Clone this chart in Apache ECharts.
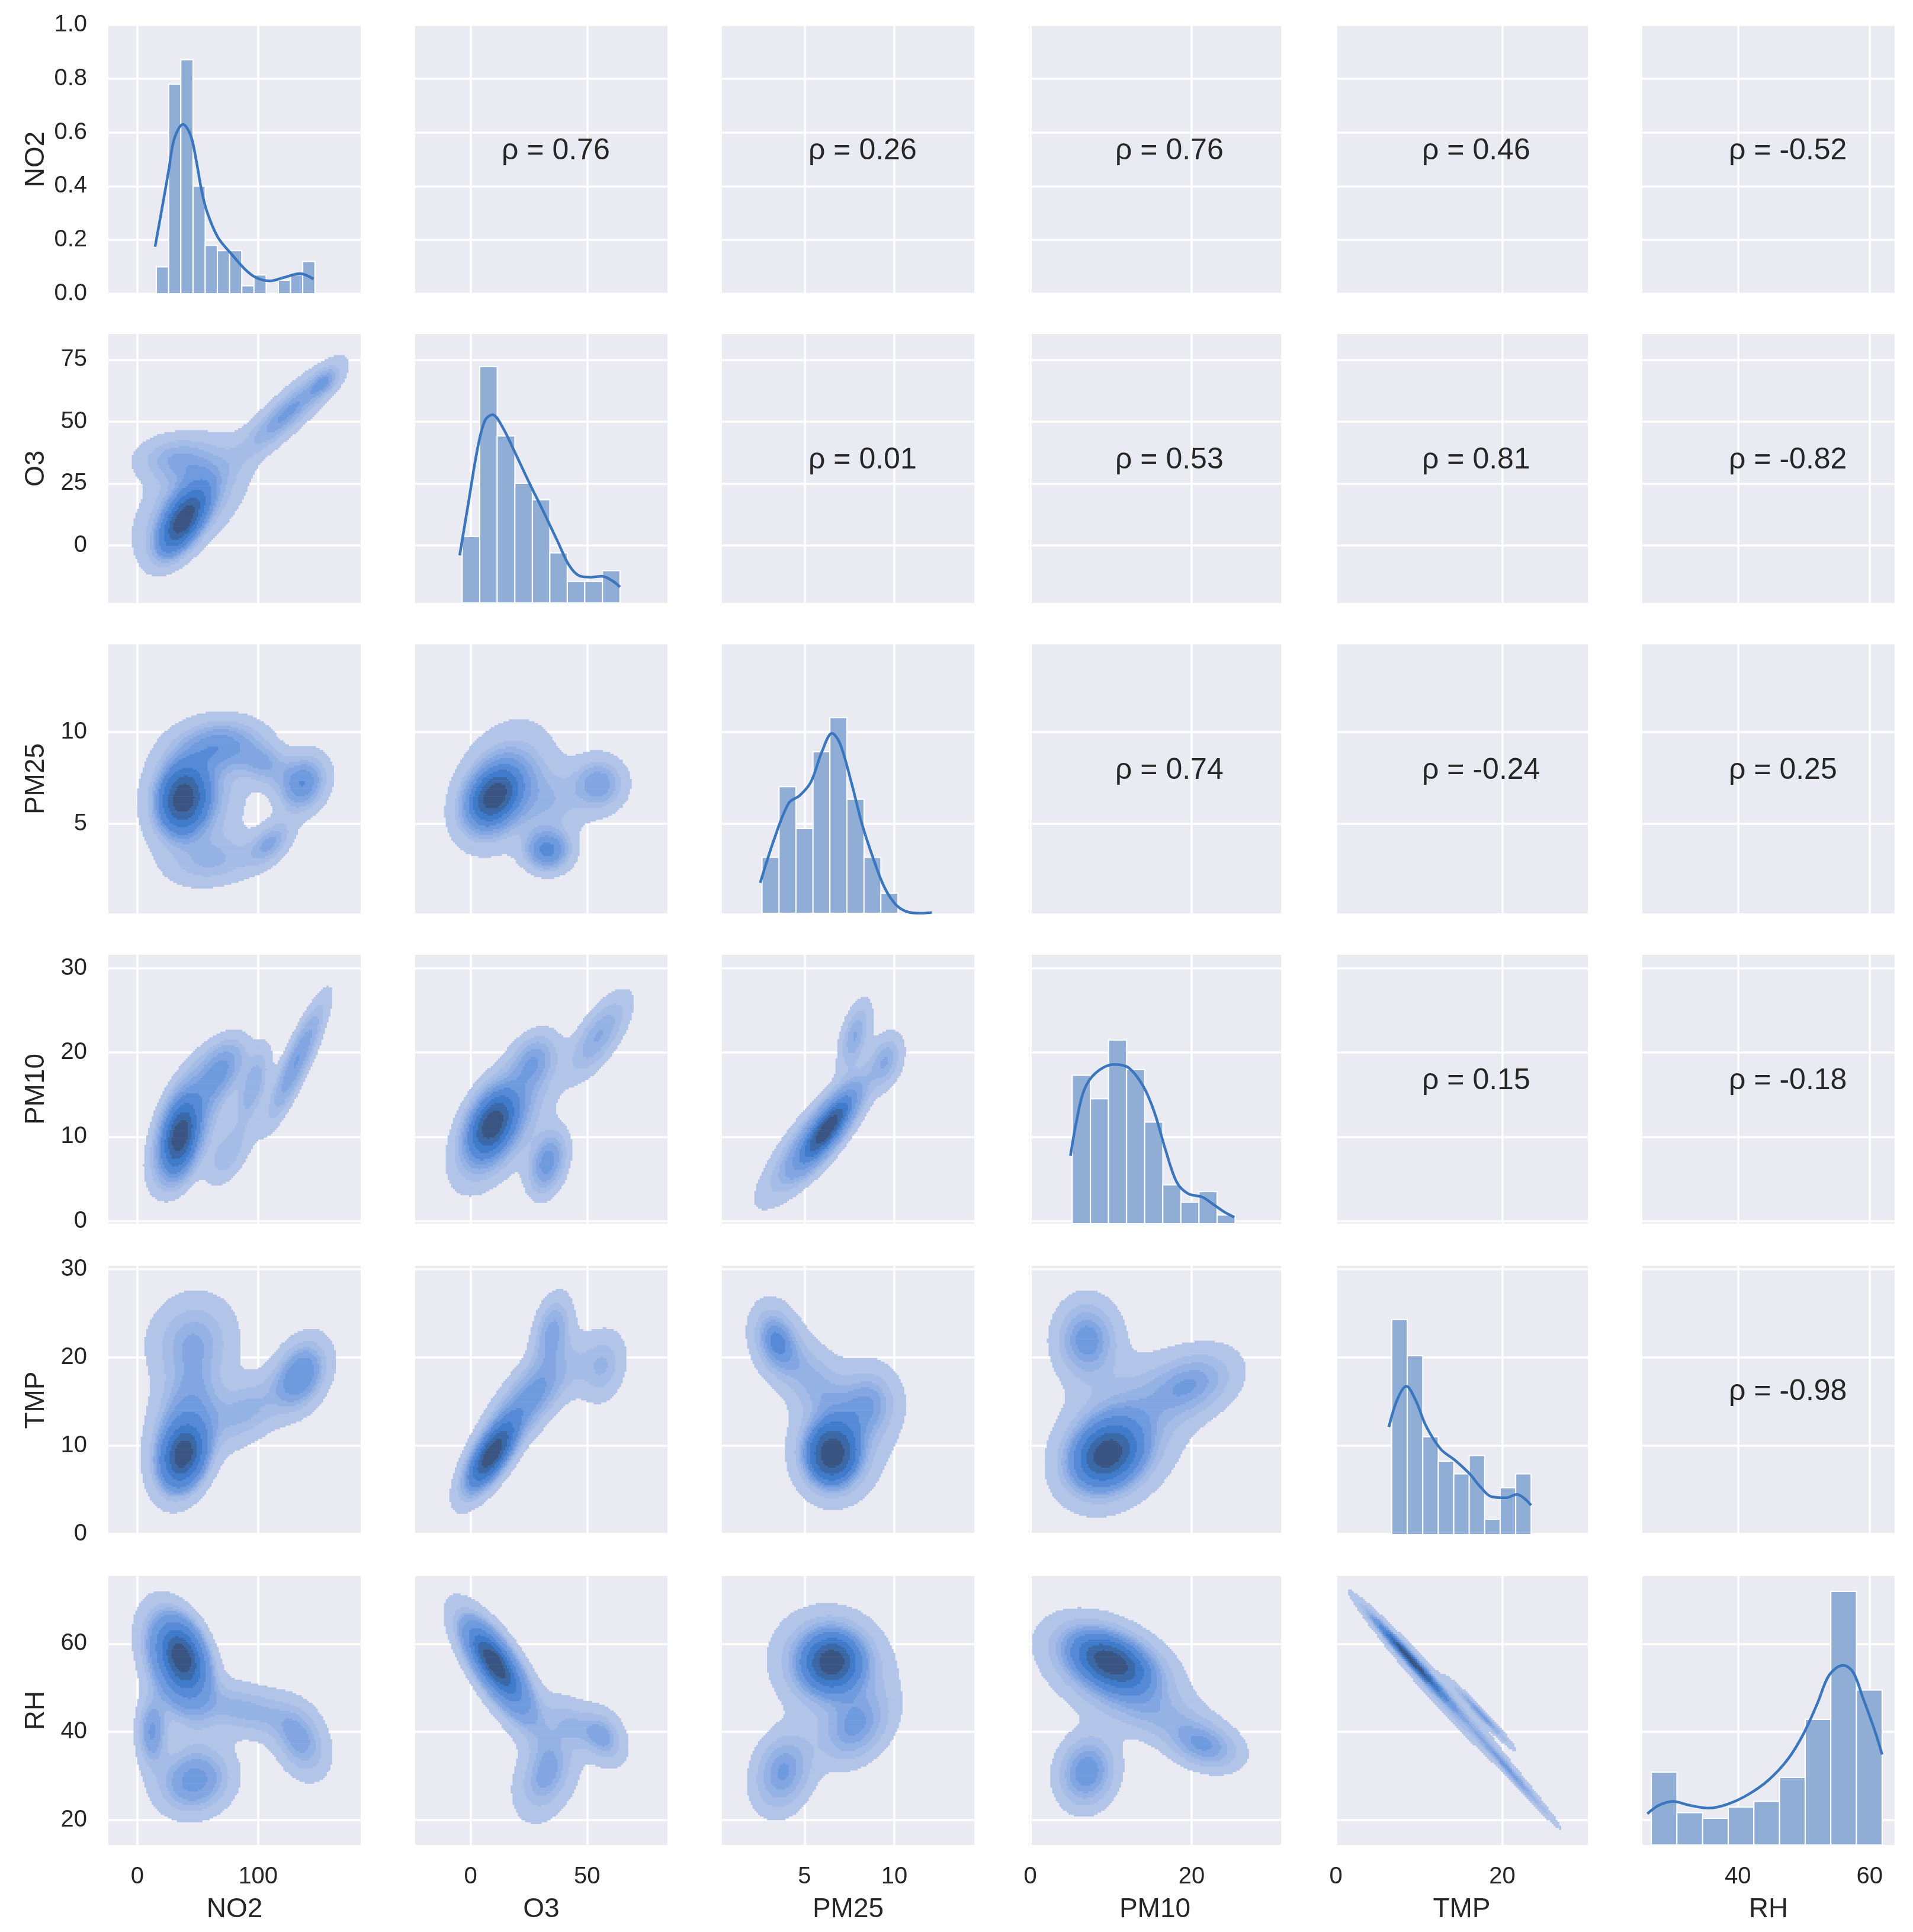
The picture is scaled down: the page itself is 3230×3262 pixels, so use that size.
<!DOCTYPE html>
<html>
<head>
<meta charset="utf-8">
<script src="https://cdn.jsdelivr.net/npm/echarts@6/dist/echarts.min.js"></script>
<style>
  html, body { margin: 0; padding: 0; background: #fff; }
  #chart { width: 3230px; height: 3262px; }
</style>
</head>
<body>
<div id="chart"></div>
<script>
// variables, in grid order
const variables = ['NO2', 'O3', 'PM25', 'PM10', 'TMP', 'RH'];

// axis ranges and ticks (columns = x, rows = y)
const colRange = [[-24, 185], [-23.8, 84.5], [0.4, 14.45], [-0.2, 31.1], [-0.05, 30.3], [25.5, 63.8]];
const rowRange = [[0, 1], [-23.3, 85.4], [0.15, 14.75], [-0.3, 31.6], [-0.1, 30.4], [14.3, 75.4]];
const colTicks = [[0, 100], [0, 50], [5, 10], [0, 20], [0, 20], [40, 60]];
const rowTicks = [[0, 0.2, 0.4, 0.6, 0.8, 1.0], [0, 25, 50, 75], [5, 10], [0, 10, 20, 30], [0, 10, 20, 30], [20, 40, 60]];

// spearman rho shown in the upper triangle
const rhoValues = [
  [null, 0.76, 0.26, 0.76, 0.46, -0.52],
  [null, null, 0.01, 0.53, 0.81, -0.82],
  [null, null, null, 0.74, -0.24, 0.25],
  [null, null, null, null, 0.15, -0.18],
  [null, null, null, null, null, -0.98]
];

// histogram bin edges (data units) and bar heights (share of panel height)
const histEdges = [
  [15.8, 25.9, 36.0, 46.1, 56.2, 66.3, 76.4, 86.5, 96.6, 106.7, 116.8, 126.9, 137.0, 147.1],
  [-3.6, 3.9, 11.4, 19.0, 26.5, 34.0, 41.5, 49.0, 56.6, 64.1],
  [2.63, 3.58, 4.52, 5.47, 6.41, 7.36, 8.31, 9.25, 10.2],
  [5.2, 7.45, 9.69, 11.94, 14.18, 16.43, 18.67, 20.92, 23.16, 25.4],
  [6.72, 8.58, 10.44, 12.31, 14.17, 16.03, 17.89, 19.75, 21.62, 23.48],
  [26.86, 30.75, 34.65, 38.54, 42.43, 46.33, 50.22, 54.11, 58.0, 61.9]
];
const histHeights = [
  [0.10, 0.78, 0.87, 0.40, 0.18, 0.16, 0.16, 0.03, 0.07, 0, 0.05, 0.07, 0.12],
  [0.247, 0.879, 0.621, 0.445, 0.384, 0.186, 0.08, 0.08, 0.12],
  [0.208, 0.471, 0.315, 0.601, 0.728, 0.424, 0.208, 0.075],
  [0.552, 0.464, 0.683, 0.573, 0.378, 0.144, 0.08, 0.119, 0.032],
  [0.80, 0.665, 0.364, 0.273, 0.226, 0.294, 0.057, 0.174, 0.226],
  [0.271, 0.12, 0.099, 0.141, 0.162, 0.251, 0.467, 0.943, 0.576]
];

// 1d kde curves on the diagonal, [x, share of panel height]
const kdeNO2 = [[14.7, 0.175], [21.5, 0.345], [26, 0.46], [30.5, 0.575], [37.8, 0.63], [44.1, 0.59], [48.6, 0.5], [53.2, 0.385], [57.7, 0.305], [66.7, 0.21], [78.1, 0.147], [89.4, 0.09], [98.4, 0.06], [109.7, 0.048], [121, 0.06], [134.6, 0.075], [145.9, 0.055]];
const kdeO3 = [[-4.7, 0.177], [-0.8, 0.38], [3.1, 0.58], [6.25, 0.68], [9.4, 0.70], [13.3, 0.66], [18.75, 0.565], [25, 0.45], [31.25, 0.34], [37.5, 0.226], [42.2, 0.141], [46.9, 0.10], [51.6, 0.096], [56.25, 0.099], [60.9, 0.082], [64.1, 0.059]];
const kdePM25 = [[2.53, 0.113], [3.31, 0.276], [4.12, 0.41], [4.73, 0.438], [5.35, 0.488], [5.96, 0.60], [6.53, 0.669], [6.98, 0.63], [7.6, 0.488], [8.2, 0.332], [8.82, 0.205], [9.43, 0.099], [10.04, 0.035], [10.65, 0.007], [11.47, 0.0], [12.08, 0.003]];
const kdePM10 = [[4.97, 0.252], [5.75, 0.385], [6.67, 0.497], [8.05, 0.559], [10.34, 0.592], [12.18, 0.58], [14.02, 0.51], [15.4, 0.413], [16.78, 0.273], [18.16, 0.154], [19.54, 0.112], [21.38, 0.098], [22.76, 0.07], [24.14, 0.042], [25.3, 0.024]];
const kdeTMP = [[6.37, 0.40], [7.37, 0.502], [8.46, 0.552], [9.55, 0.502], [10.85, 0.403], [12.6, 0.318], [14.34, 0.276], [16.08, 0.226], [17.39, 0.177], [18.7, 0.141], [20.44, 0.137], [21.74, 0.149], [23.48, 0.109]];
const kdeRH = [[26.26, 0.116], [28.06, 0.148], [30.17, 0.162], [32.57, 0.148], [35.58, 0.137], [38.59, 0.153], [41.6, 0.188], [44.6, 0.24], [47.6, 0.319], [50.0, 0.415], [52.1, 0.528], [53.9, 0.633], [56.0, 0.668], [57.5, 0.642], [59.0, 0.546], [60.8, 0.424], [61.9, 0.336]];
const kdeCurves = [kdeNO2, kdeO3, kdePM25, kdePM10, kdeTMP, kdeRH];

// bivariate kde bumps:
// [mean x, mean y, sd x, sd y, correlation, weight]
const blobs = {
  '1_0': [[38, 10, 12, 8, 0.6, 0.35], [45, 18, 25, 13, 0.55, 0.30], [32, 35, 20, 6, 0.1, 0.10], [125, 54, 24, 11, 0.87, 0.15], [155, 66, 8, 4, 0.5, 0.02]],
  '2_0': [[38, 6.4, 11, 1.0, 0.1, 0.33], [45, 6.5, 24, 2.0, 0.1, 0.28], [68, 9.3, 22, 0.9, 0.2, 0.12], [137, 7.2, 13, 1.0, 0.2, 0.10], [65, 3.0, 24, 0.9, 0.2, 0.07], [105, 8.3, 14, 0.8, -0.2, 0.05], [110, 4.0, 12, 0.8, 0.5, 0.04]],
  '2_1': [[10, 6.5, 7, 1.0, 0.3, 0.35], [14, 7.0, 12, 1.9, 0.3, 0.30], [55, 7.2, 7, 0.9, 0.0, 0.09], [33, 3.6, 6, 0.7, 0.0, 0.10], [35, 6.2, 10, 1.2, 0.0, 0.08]],
  '3_0': [[35, 10, 9, 2.6, 0.3, 0.38], [42, 12, 18, 4.5, 0.6, 0.30], [70, 18, 13, 2.3, 0.5, 0.10], [132, 19, 15, 4.5, 0.88, 0.14], [96, 16, 9, 3, 0.6, 0.06], [75, 8, 12, 2.5, 0.5, 0.05]],
  '3_1': [[9, 11.5, 6.5, 2.5, 0.4, 0.38], [14, 12, 12, 4.5, 0.6, 0.30], [33, 7, 5, 2.3, 0.3, 0.10], [55, 22, 8, 3, 0.7, 0.10], [27, 19, 6, 2, 0.3, 0.07]],
  '3_2': [[6.3, 11, 1.0, 2.8, 0.8, 0.42], [5.6, 10, 1.7, 4.3, 0.85, 0.35], [7.8, 22, 0.55, 2.5, 0.5, 0.08], [9.5, 19, 0.6, 2.0, 0.3, 0.07]],
  '4_0': [[38, 9, 10, 2.0, 0.2, 0.33], [40, 12, 18, 4.5, 0.3, 0.25], [45, 22, 22, 3.2, 0.1, 0.13], [135, 18, 14, 2.5, 0.3, 0.12], [90, 14, 20, 2.5, 0.4, 0.08]],
  '4_1': [[9, 9, 6, 2.2, 0.7, 0.38], [15, 12, 11, 4.5, 0.8, 0.30], [35, 23, 5, 2.5, 0.3, 0.10], [57, 19, 6, 2.5, 0.2, 0.08], [30, 16, 7, 2.5, 0.5, 0.10], [44, 19, 7, 2.5, 0.3, 0.05]],
  '4_2': [[6.5, 9, 0.9, 2.2, 0.0, 0.33], [7.0, 11, 1.5, 4.0, 0.1, 0.28], [3.4, 22, 0.8, 2.4, -0.2, 0.12], [5.2, 18, 1.3, 3.0, -0.5, 0.12], [8.7, 15, 1.0, 2.5, 0.0, 0.10]],
  '4_3': [[9.5, 9, 2.5, 2.2, 0.2, 0.33], [11, 11, 4.5, 4.5, 0.3, 0.30], [7, 22, 2.4, 2.8, 0.0, 0.12], [20, 17, 3.5, 2.5, 0.3, 0.12]],
  '5_0': [[37, 57, 11, 4.5, -0.3, 0.33], [33, 55, 18, 8, -0.4, 0.25], [47, 29, 20, 5, 0.1, 0.14], [135, 38, 15, 5.5, -0.3, 0.08], [90, 45, 25, 4, -0.3, 0.08], [12, 40, 8, 5, 0, 0.05]],
  '5_1': [[10, 56, 7, 5, -0.7, 0.40], [14, 52, 12, 9, -0.8, 0.30], [32, 30, 8, 6, 0.3, 0.14], [57, 39, 6, 4, -0.3, 0.07], [43, 42, 7, 4, -0.4, 0.05]],
  '5_2': [[6.5, 56, 1.0, 4, 0.0, 0.35], [6.5, 55, 1.8, 7, -0.1, 0.30], [3.8, 31, 1.0, 5.5, 0.2, 0.14], [7.8, 41, 1.2, 5, 0.3, 0.14]],
  '5_3': [[10, 56, 3, 4, -0.4, 0.35], [10, 54, 5, 7, -0.4, 0.28], [7, 31, 2.2, 5, 0.1, 0.13], [21.5, 37, 2.8, 3.5, -0.3, 0.09], [16, 44, 4, 4, -0.4, 0.06]],
  '5_4': [[9, 56.5, 2.5, 5.2, -0.985, 0.45], [12, 50, 5, 10.5, -0.98, 0.35], [21, 31, 3, 6.5, -0.99, 0.12], [17.5, 44, 2, 4, -0.98, 0.08]]
};

// layout of the 6x6 panels (px)
const panelLeft = [183, 701, 1219, 1737, 2255, 2773];
const panelTop = [42, 564, 1088, 1612, 2137, 2661];
const panelW = 426, panelH = 454;

const FONT = 'Liberation Sans';
const TEXT = '#262626';
const BG = '#EAEAF2';
const LINE = '#3A76BE';
const BAR = '#90ADD5';
const bandColors = ['#B2C5E9', '#A5BCE7', '#95B2E5', '#83A6E2', '#6E9ADE', '#5689D6', '#3F7BCA', '#3B68A6', '#3B5583'];

// filled kde bands the seaborn way: iso-proportion levels, thresh .05, 10 levels
function kdeRuns(parts, xr, yr, n) {
  const dx = (xr[1] - xr[0]) / n, dy = (yr[1] - yr[0]) / n;
  const dens = new Float64Array(n * n);
  for (let r = 0; r < n; r++) {
    const y = yr[0] + (r + 0.5) * dy;
    for (let c = 0; c < n; c++) {
      const x = xr[0] + (c + 0.5) * dx;
      let s = 0;
      for (const [mx, my, sx, sy, rho, w] of parts) {
        const u = (x - mx) / sx, v = (y - my) / sy, k = 1 - rho * rho;
        s += w * Math.exp(-0.5 * (u * u - 2 * rho * u * v + v * v) / k) / (2 * Math.PI * sx * sy * Math.sqrt(k));
      }
      dens[r * n + c] = s;
    }
  }
  const sorted = Array.from(dens).sort((a, b) => b - a);
  const total = sorted.reduce((a, b) => a + b, 0);
  const cum = [];
  let acc = 0;
  for (const v of sorted) { acc += v; cum.push(acc / total); }
  const levels = [];
  for (let k = 0; k < 10; k++) {
    const target = 1 - (0.05 + k * 0.95 / 9);
    let idx = cum.findIndex(c => c >= target - 1e-12);
    if (idx < 0) idx = sorted.length - 1;
    levels.push(sorted[idx]);
  }
  const bandOf = v => {
    if (v < levels[0]) return -1;
    let b = 0;
    while (b < 8 && v >= levels[b + 1]) b++;
    return b;
  };
  const runs = [];
  for (let r = 0; r < n; r++) {
    let c = 0;
    while (c < n) {
      const b = bandOf(dens[r * n + c]);
      if (b < 0) { c++; continue; }
      let e = c;
      while (e + 1 < n && bandOf(dens[r * n + e + 1]) === b) e++;
      runs.push([xr[0] + c * dx, xr[0] + (e + 1) * dx, yr[0] + (r + 0.5) * dy, b]);
      c = e + 1;
    }
  }
  return { runs, dy };
}

const grids = [], xAxes = [], yAxes = [], series = [], graphics = [];
const histAxis = {};

for (let i = 0; i < 6; i++) {
  for (let j = 0; j < 6; j++) {
    const g = i * 6 + j;
    grids.push({
      left: panelLeft[j], top: panelTop[i], width: panelW, height: panelH,
      show: true, backgroundColor: BG, borderWidth: 0
    });
    const bottom = i === 5, leftmost = j === 0;
    xAxes.push({
      type: 'value', gridIndex: g, min: colRange[j][0], max: colRange[j][1],
      axisLine: { show: false },
      axisTick: { show: false, customValues: colTicks[j] },
      axisLabel: {
        show: bottom, customValues: colTicks[j], margin: 34,
        fontFamily: FONT, fontSize: 40, color: TEXT
      },
      splitLine: { show: true, lineStyle: { color: '#fff', width: 3.5 } },
      name: bottom ? variables[j] : '', nameLocation: 'middle', nameGap: 86,
      nameTextStyle: { fontFamily: FONT, fontSize: 46, color: TEXT }
    });
    yAxes.push({
      type: 'value', gridIndex: g, min: rowRange[i][0], max: rowRange[i][1],
      axisLine: { show: false },
      axisTick: { show: false, customValues: rowTicks[i] },
      axisLabel: {
        show: leftmost, customValues: rowTicks[i], margin: 36,
        fontFamily: FONT, fontSize: 40, color: TEXT,
        formatter: v => (i === 0 ? v.toFixed(1) : String(v))
      },
      splitLine: { show: true, lineStyle: { color: '#fff', width: 3.5 } },
      name: leftmost ? variables[i] : '', nameLocation: 'middle', nameGap: 99,
      nameTextStyle: { fontFamily: FONT, fontSize: 46, color: TEXT }
    });
  }
}

// hidden 0..1 axes for the diagonal histograms
for (let i = 0; i < 6; i++) {
  histAxis[i] = yAxes.length;
  yAxes.push({ type: 'value', gridIndex: i * 7, min: 0, max: 1, show: false, splitLine: { show: false } });
}

for (let i = 0; i < 6; i++) {
  const g = i * 7;
  const bars = histHeights[i].map((h, k) => [histEdges[i][k], histEdges[i][k + 1], h]).filter(d => d[2] > 0);
  series.push({
    type: 'custom', coordinateSystem: 'cartesian2d', xAxisIndex: g, yAxisIndex: histAxis[i],
    data: bars, z: 2, silent: true,
    renderItem: (params, api) => {
      const a = api.coord([api.value(0), api.value(2)]);
      const b = api.coord([api.value(1), 0]);
      return {
        type: 'rect',
        shape: { x: a[0], y: a[1], width: b[0] - a[0], height: b[1] - a[1] },
        style: { fill: BAR, stroke: '#fff', lineWidth: 2 }
      };
    }
  });
  series.push({
    type: 'line', xAxisIndex: g, yAxisIndex: histAxis[i], data: kdeCurves[i],
    smooth: 0.35, symbol: 'none', z: 4, silent: true,
    lineStyle: { color: LINE, width: 4.5 }
  });
}

for (let i = 1; i < 6; i++) {
  for (let j = 0; j < i; j++) {
    const g = i * 6 + j;
    const { runs, dy } = kdeRuns(blobs[i + '_' + j], colRange[j], rowRange[i], 140);
    series.push({
      type: 'custom', coordinateSystem: 'cartesian2d', xAxisIndex: g, yAxisIndex: g,
      data: runs, z: 2, silent: true, clip: true,
      renderItem: (params, api) => {
        const a = api.coord([api.value(0), api.value(2) + dy / 2]);
        const b = api.coord([api.value(1), api.value(2) - dy / 2]);
        return {
          type: 'rect',
          shape: { x: a[0], y: a[1], width: b[0] - a[0] + 0.6, height: b[1] - a[1] + 0.6 },
          style: { fill: bandColors[api.value(3)] }
        };
      }
    });
  }
}

for (let i = 0; i < 5; i++) {
  for (let j = i + 1; j < 6; j++) {
    graphics.push({
      type: 'text',
      x: panelLeft[j] + 146, y: panelTop[i] + 213,
      style: {
        text: 'ρ = ' + rhoValues[i][j].toFixed(2),
        font: '50px "' + FONT + '"', fill: TEXT,
        align: 'left', verticalAlign: 'middle'
      },
      z: 10
    });
  }
}

const chart = echarts.init(document.getElementById('chart'));
chart.setOption({
  backgroundColor: '#fff',
  animation: false,
  grid: grids,
  xAxis: xAxes,
  yAxis: yAxes,
  series: series,
  graphic: graphics
});
</script>
</body>
</html>
